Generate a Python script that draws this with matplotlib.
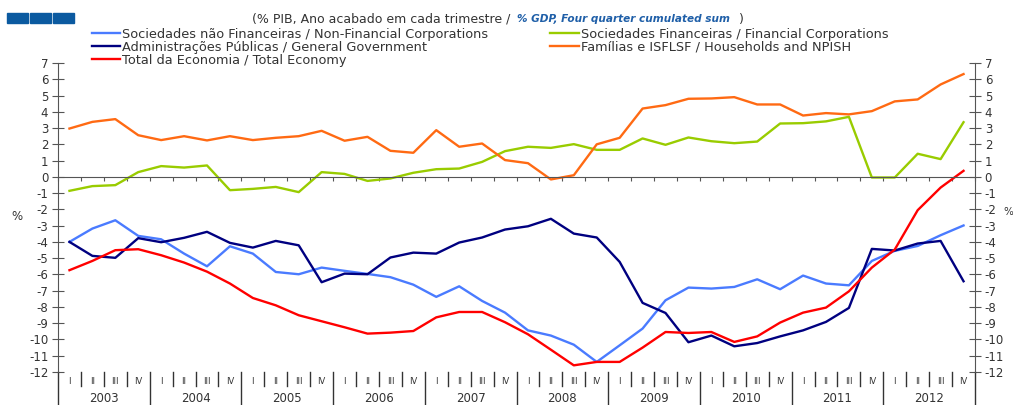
import numpy as np
import matplotlib.pyplot as plt
import matplotlib.transforms as mtransforms

plt.rcParams['font.family'] = ['DejaVu Sans']
plt.rcParams['axes.unicode_minus'] = False

# --- data: % of GDP, four quarter cumulated sum, 2003Q1 .. 2012Q4 ---
years = [str(y) for y in range(2003, 2013)]
quarters = ['I', 'II', 'III', 'IV']

non_financial = [-4.0, -3.18, -2.67, -3.63, -3.84, -4.72, -5.50, -4.27, -4.72, -5.85,
                 -5.99, -5.58, -5.78, -5.97, -6.17, -6.63, -7.38, -6.73, -7.63, -8.35,
                 -9.44, -9.76, -10.32, -11.38, -10.36, -9.33, -7.59, -6.81, -6.87, -6.77,
                 -6.30, -6.91, -6.07, -6.56, -6.67, -5.17, -4.55, -4.25, -3.59, -2.99]
financial = [-0.86, -0.57, -0.51, 0.29, 0.66, 0.57, 0.70, -0.82, -0.74, -0.62,
             -0.94, 0.29, 0.18, -0.25, -0.10, 0.25, 0.47, 0.51, 0.92, 1.58,
             1.85, 1.78, 2.01, 1.66, 1.66, 2.36, 1.97, 2.42, 2.19, 2.07,
             2.17, 3.28, 3.30, 3.41, 3.69, -0.04, -0.04, 1.42, 1.09, 3.36]
government = [-4.0, -4.86, -4.98, -3.77, -4.02, -3.75, -3.38, -4.06, -4.35, -3.94,
              -4.21, -6.48, -5.95, -5.99, -4.96, -4.66, -4.72, -4.04, -3.73, -3.24,
              -3.04, -2.58, -3.49, -3.73, -5.23, -7.75, -8.37, -10.17, -9.76, -10.42,
              -10.22, -9.81, -9.44, -8.92, -8.06, -4.43, -4.53, -4.10, -3.94, -6.42]
households = [2.97, 3.38, 3.55, 2.56, 2.26, 2.50, 2.24, 2.50, 2.26, 2.40,
              2.50, 2.83, 2.22, 2.46, 1.60, 1.48, 2.87, 1.85, 2.05, 1.03,
              0.84, -0.16, 0.10, 2.00, 2.40, 4.20, 4.41, 4.80, 4.82, 4.90,
              4.45, 4.45, 3.77, 3.92, 3.84, 4.04, 4.64, 4.76, 5.68, 6.32]
total = [-5.74, -5.17, -4.51, -4.45, -4.82, -5.27, -5.83, -6.56, -7.45, -7.90,
         -8.51, -8.88, -9.25, -9.64, -9.58, -9.48, -8.64, -8.31, -8.31, -8.94,
         -9.68, -10.63, -11.59, -11.38, -11.38, -10.50, -9.54, -9.60, -9.54, -10.15,
         -9.81, -8.96, -8.35, -8.04, -7.04, -5.58, -4.47, -2.05, -0.66, 0.37]

series = [
    ('Sociedades não Financeiras / Non-Financial Corporations', non_financial, '#4a7bff'),
    ('Administrações Públicas / General Government', government, '#000080'),
    ('Total da Economia / Total Economy', total, '#ff0000'),
    ('Sociedades Financeiras / Financial Corporations', financial, '#99cc00'),
    ('Famílias e ISFLSF / Households and NPISH', households, '#ff6a13'),
]

W, H = 1013, 405
fig = plt.figure(figsize=(W / 100, H / 100), dpi=100)
ax = fig.add_axes([58 / W, 1 - 372 / H, (975 - 58) / W, (372 - 63) / H])

n = len(total)
x = np.arange(n) + 0.5
for label, vals, col in series:
    ax.plot(x, vals, color=col, lw=1.7, label=label)

ax.set_xlim(0, n)
ax.set_ylim(-12, 7)
yt = np.arange(-12, 8)
ax.set_yticks(yt)
ax.set_yticklabels([str(v) for v in yt])

axis_col = '#555555'
for s in ['left', 'right']:
    ax.spines[s].set_color(axis_col)
ax.spines['top'].set_visible(False)
ax.spines['bottom'].set_position(('data', 0))
ax.spines['bottom'].set_color(axis_col)
ax.set_xticks(np.arange(0, n + 1))
ax.set_xticklabels([])
ax.tick_params(axis='x', direction='out', length=3, color=axis_col)
ax.tick_params(axis='y', direction='inout', length=8, color=axis_col,
               labelsize=8.5, labelcolor='#333333', left=True, right=True,
               labelleft=True, labelright=True, pad=3)

# quarter / year labels under the plot
trans = mtransforms.blended_transform_factory(ax.transData, ax.transAxes)
for i in range(n + 1):
    long_line = (i % 4 == 0)
    ax.plot([i, i], [0, -0.108 if long_line else -0.045], transform=trans,
            color='#333333', lw=1.0, clip_on=False)
for i in range(n):
    ax.text(i + 0.5, -0.03, quarters[i % 4], transform=trans, ha='center',
            va='center', fontsize=6, color='#333333')
for k, yr in enumerate(years):
    ax.text(4 * k + 2, -0.085, yr, transform=trans, ha='center', va='center',
            fontsize=8.5, color='#333333')

fig.text(17 / W, 1 - 217 / H, '%', fontsize=8.5, color='#333333', ha='center', va='center')
fig.text(1003 / W, 1 - 212 / H, '%', fontsize=7.5, color='#333333', ha='left', va='center')

# header boxes
for bx in [7, 30, 53]:
    fig.patches.append(plt.Rectangle((bx / W, 1 - 23 / H), 21 / W, 10 / H,
                                     transform=fig.transFigure, color='#0b5aa0'))

# title in two styles
fig.text(514 / W, 1 - 19 / H, '(% PIB, Ano acabado em cada trimestre / ', ha='right',
         va='center', fontsize=9, color='#333333')
fig.text(517 / W, 1 - 19 / H, '% GDP, Four quarter cumulated sum', ha='left',
         va='center', fontsize=7.6, color='#1f5fa8', style='italic', weight='bold')
fig.text(739 / W, 1 - 19 / H, ')', ha='left', va='center', fontsize=9, color='#333333')

leg = fig.legend(loc='upper left', bbox_to_anchor=(92 / W, 1 - 28 / H), ncol=2,
                 frameon=False, fontsize=9.3, handlelength=2.2, handletextpad=0.15,
                 labelspacing=0.0, columnspacing=4.8, borderpad=0, borderaxespad=0)
for t in leg.get_texts():
    t.set_color('#333333')

fig.savefig('out.png', dpi=100)
